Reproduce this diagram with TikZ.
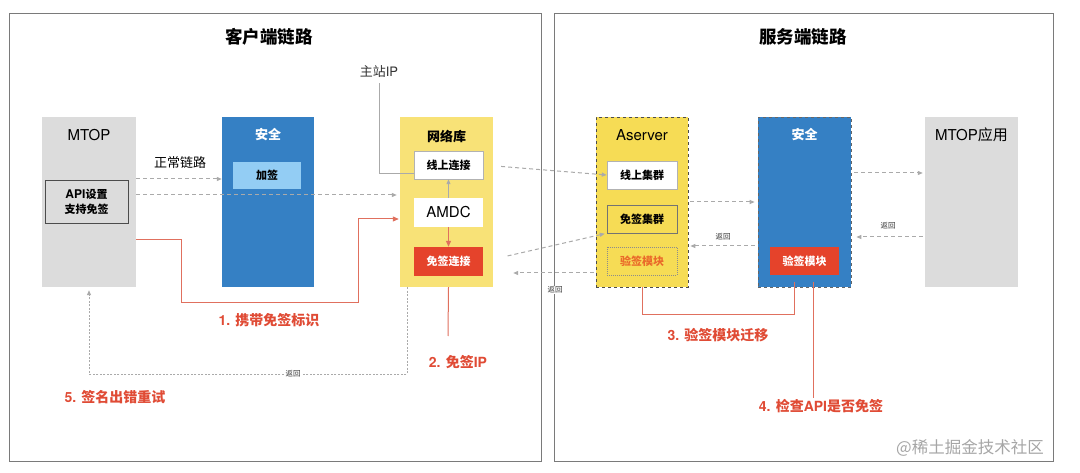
\documentclass[tikz,border=0pt]{standalone}
\usepackage{fontspec}
\setmainfont{Noto Sans CJK SC}
\newfontfamily\hv{TeX Gyre Heros}
\usetikzlibrary{arrows.meta}
\definecolor{panelc}{HTML}{7A7A7A}
\definecolor{grayc}{HTML}{DCDCDC}
\definecolor{bluec}{HTML}{3580C4}
\definecolor{lbluec}{HTML}{93CDF4}
\definecolor{yelc}{HTML}{F8E277}
\definecolor{yel2}{HTML}{F6DC55}
\definecolor{redc}{HTML}{E5432B}
\definecolor{redt}{HTML}{E04B35}
\definecolor{redl}{HTML}{E0705E}
\definecolor{dashc}{HTML}{AAAAAA}
\definecolor{orangec}{HTML}{EA6A2A}
\tikzset{
  panel/.style={draw=panelc, line width=0.9pt, fill=white, inner sep=0pt},
  col/.style={inner sep=0pt, minimum width=93pt, minimum height=170pt},
  inbox/.style={inner sep=0pt, minimum width=69pt, minimum height=28pt, font=\bfseries\fontsize{11}{13}\selectfont},
  hdr/.style={inner sep=0pt, font=\fontsize{15}{17}\selectfont},
  hdrb/.style={inner sep=0pt, font=\bfseries\fontsize{13}{15}\selectfont},
  title/.style={inner sep=0pt, font=\bfseries\fontsize{17.5}{20}\selectfont},
  steplabel/.style={inner sep=0pt, text=redt, font=\bfseries\fontsize{14}{16}\selectfont},
  retlabel/.style={inner sep=1pt, fill=white, font=\fontsize{7.5}{9}\selectfont, text=black!80},
  dasharrow/.style={draw=dashc, line width=1pt, dash pattern=on 4pt off 3pt, -{Triangle[length=5pt,width=4pt]}},
  dotarrow/.style={draw=dashc, line width=0.8pt, dash pattern=on 2pt off 1.5pt, -{Triangle[length=5pt,width=4pt]}},
  redline/.style={draw=redl, line width=1pt},
  redarrow/.style={draw=redl, line width=1pt, -{Triangle[length=6pt,width=5pt]}},
  grayline/.style={draw=dashc, line width=1pt},
}
\begin{document}
\begin{tikzpicture}[x=1pt,y=-1pt]
\useasboundingbox (0,0) rectangle (1080,473);
\fill[white] (0,0) rectangle (1080,473);
% panels
\node[panel, minimum width=532pt, minimum height=448pt] (lp) at (275,237) {};
\node[panel, minimum width=499pt, minimum height=448pt] (rp) at (803.5,237) {};
\node[title] (t1) at (269,37) {客户端链路};
\node[title] (t2) at (803,37) {服务端链路};
% client columns
\node[col, fill=grayc, minimum width=94pt] (mtop) at (89,202) {};
\node[hdr] (mtoph) at (89,135) {\hv MTOP};
\node[draw=black!70, line width=0.8pt, fill=grayc, inner sep=0pt, minimum width=83pt, minimum height=43pt, align=center, font=\bfseries\fontsize{11}{15}\selectfont] (api) at (86.5,201.5) {{\hv\bfseries\fontsize{12}{15}\selectfont API}设置\\支持免签};
\node[col, fill=bluec, minimum width=92pt] (sec1) at (268,202) {};
\node[hdrb, text=white] (sec1h) at (268,135) {安全};
\node[inbox, fill=lbluec, minimum width=68pt, minimum height=27pt] (jq) at (267,175.5) {加签};
\node[col, fill=yelc] (net) at (446.5,202) {};
\node[hdrb] (neth) at (446.5,136) {网络库};
\node[inbox, fill=white, draw=black!30, line width=0.5pt] (l1) at (448.5,165) {线上连接};
\node[inbox, fill=white, minimum height=29pt, font=\hv\fontsize{15}{17}\selectfont] (amdc) at (448.5,212.5) {AMDC};
\node[inbox, fill=redc, text=white, minimum height=29pt] (fm) at (448.5,261.5) {免签连接};
% server columns
\node[col, fill=yel2, draw=black!70, line width=0.7pt, dashed, minimum width=92pt] (as) at (642,202) {};
\node[hdr] (ash) at (642,135) {\hv Aserver};
\node[inbox, fill=white, draw=black!30, line width=0.5pt, minimum width=70pt] (s1) at (642,175) {线上集群};
\node[inbox, fill=yel2, draw=black!55, line width=0.5pt, minimum width=70pt] (s2) at (642,219) {免签集群};
\node[inbox, draw=black!45, line width=0.4pt, dash pattern=on 1pt off 1pt, text=orangec, minimum width=70pt] (v1) at (642,261) {验签模块};
\node[col, fill=bluec, draw=black!60, line width=0.7pt, dashed] (ss) at (804.5,202) {};
\node[hdrb, text=white] (ssh) at (804.5,135) {安全};
\node[inbox, fill=redc, text=white] (v2) at (804.5,261) {验签模块};
\node[col, fill=grayc] (mapp) at (971.5,202) {};
\node[hdr] (mapph) at (971.5,135) {{\hv MTOP}应用};
% client connectors
\node[inner sep=0pt, font=\fontsize{13}{15}\selectfont] (zl) at (180,163) {正常链路};
\draw[dasharrow] (mtop.east |- 0,179) -- (sec1.west |- 0,179);
\draw[dasharrow] (mtop.east |- 0,195) -- ([xshift=-3pt]net.west |- 0,195);
\coordinate (r1) at (181,303);
\coordinate (r2) at (358,219);
\draw[redarrow] (mtop.east |- 0,240) -| (r1) -| (r2) -- ([xshift=-1pt]net.west |- r2);
\node[steplabel] (lab1) at (269,320) {{\hv\bfseries 1. }携带免签标识};
\node[inner sep=0pt, font=\fontsize{13}{15}\selectfont, text=black!80] (zz) at (379,72) {主站{\hv IP}};
\draw[grayline] ([yshift=-5pt]zz.south) |- (l1.west |- 0,174);
\draw[draw=dashc, line width=1pt, -{Triangle[length=5pt,width=4pt]}] (amdc.north) -- (l1.south);
\draw[redarrow] (amdc.south) -- (fm.north);
\coordinate (e2) at (448,336);
\draw[redline] (fm.south |- net.south) -- (e2);
\node[steplabel] (lab2) at (458,362) {{\hv\bfseries 2. }免签{\hv\bfseries IP}};
\coordinate (ret5) at (89,374);
\draw[dotarrow, shorten >=3pt] (net.south -| 407,0) |- (ret5) -- (mtop.south);
\node[retlabel] (rl1) at (293,374) {返回};
\node[steplabel] (lab5) at (115,397) {{\hv\bfseries 5. }签名出错重试};
% cross connectors
\draw[dasharrow, shorten <=18pt] (l1.east) -- (s1.west);
\draw[dasharrow, shorten <=25pt, shorten >=2pt] (fm.east) -- (s2.south west);
\draw[dasharrow, shorten <=2pt, shorten >=20pt] (as.west |- 0,273) -- (net.east |- 0,273);
\node[retlabel] (rl2) at (555,290) {返回};
% server connectors
\draw[dasharrow, shorten <=2pt, shorten >=3pt] (as.east) -- (ss.west);
\draw[dasharrow, shorten <=3pt, shorten >=2pt] (ss.east |- 0,173) -- (mapp.west |- 0,173);
\draw[dasharrow, shorten <=2pt, shorten >=5pt] (mapp.west |- 0,237) -- (ss.east |- 0,237);
\node[retlabel] (rl3) at (888,226) {返回};
\draw[dasharrow, shorten <=3pt, shorten >=2pt] (ss.west |- 0,246) -- (as.east |- 0,246);
\node[retlabel] (rl4) at (723,237) {返回};
\coordinate (r3) at (794,315);
\coordinate (r4) at (794,282);
\draw[redline] (as.south) |- (r3) -- (r4);
\node[steplabel] (lab3) at (718,335) {{\hv\bfseries 3. }验签模块迁移};
\coordinate (r5) at (813,282);
\coordinate (r6) at (813,398);
\draw[redline] (r5) -- (r6);
\node[steplabel] (lab4) at (821,406) {{\hv\bfseries 4. }检查{\hv\bfseries API}是否免签};
\node[inner sep=0pt, text=black!35, font=\fontsize{16.5}{18}\selectfont] (wm) at (970,448) {@稀土掘金技术社区};
\end{tikzpicture}
\end{document}
